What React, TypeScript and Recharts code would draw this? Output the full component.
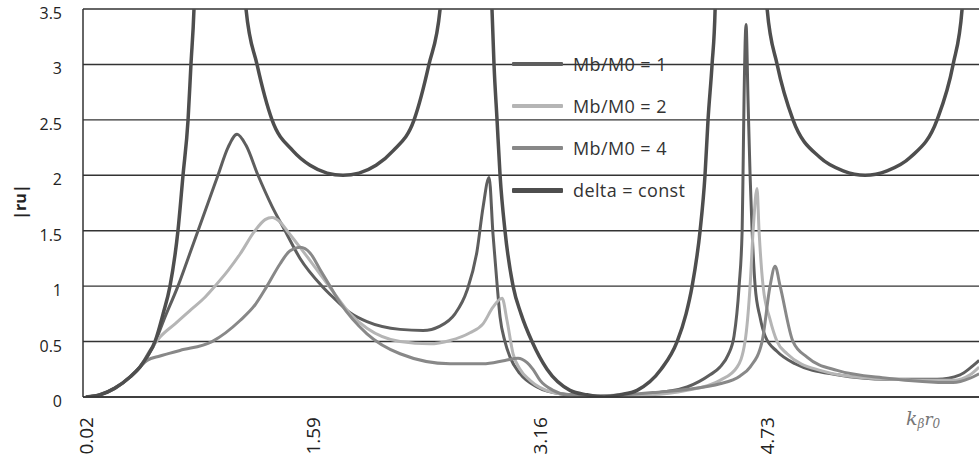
import { CartesianGrid, Legend, Line, LineChart, XAxis, YAxis } from "recharts";

// k_beta * r0 ticks and |ru| ticks
const kTicks = [0.02, 1.59, 3.16, 4.73];
const ruTicks = [0, 0.5, 1, 1.5, 2, 2.5, 3, 3.5];

// Mb/M0 = 1
const mb1K = [0.02, 0.118, 0.221, 0.325, 0.394, 0.484, 0.567, 0.657, 0.727, 0.796, 0.865, 0.934, 1.003, 1.066, 1.128, 1.211, 1.308, 1.398, 1.502, 1.654, 1.73, 1.848, 1.965, 2.194, 2.353, 2.471, 2.574, 2.657, 2.727, 2.768, 2.81, 2.837, 2.865, 2.886, 2.92, 2.955, 3.024, 3.142, 3.301, 3.578, 3.924, 4.18, 4.339, 4.408, 4.464, 4.505, 4.54, 4.561, 4.567, 4.574, 4.588, 4.602, 4.616, 4.63, 4.651, 4.685, 4.72, 4.803, 4.927, 5.218, 5.564, 5.91, 6.069, 6.138, 6.201];
const mb1R = [0, 0.02, 0.08, 0.18, 0.27, 0.45, 0.72, 1.0, 1.25, 1.5, 1.75, 2.0, 2.25, 2.37, 2.27, 2.0, 1.72, 1.5, 1.25, 1.0, 0.9, 0.76, 0.68, 0.61, 0.6, 0.64, 0.75, 0.96, 1.32, 1.71, 1.98, 1.47, 1.02, 0.72, 0.5, 0.36, 0.21, 0.09, 0.03, 0.01, 0.03, 0.09, 0.2, 0.27, 0.38, 0.55, 1.0, 1.5, 2.0, 2.67, 3.36, 2.67, 2.0, 1.5, 1.0, 0.72, 0.55, 0.41, 0.3, 0.2, 0.16, 0.16, 0.2, 0.26, 0.33];

// Mb/M0 = 2
const mb2K = [0.02, 0.118, 0.221, 0.325, 0.394, 0.464, 0.533, 0.637, 0.74, 0.844, 0.913, 1.003, 1.087, 1.19, 1.26, 1.308, 1.363, 1.412, 1.502, 1.606, 1.73, 1.848, 1.965, 2.194, 2.401, 2.54, 2.678, 2.768, 2.837, 2.9, 2.934, 2.976, 3.024, 3.093, 3.253, 3.439, 3.924, 4.18, 4.408, 4.526, 4.581, 4.616, 4.637, 4.664, 4.678, 4.706, 4.754, 4.803, 4.872, 5.1, 5.446, 6.021, 6.138, 6.201];
const mb2R = [0, 0.02, 0.08, 0.18, 0.27, 0.42, 0.54, 0.66, 0.78, 0.9, 1.0, 1.14, 1.29, 1.5, 1.6, 1.62, 1.58, 1.5, 1.35, 1.17, 0.95, 0.75, 0.62, 0.5, 0.48, 0.51, 0.58, 0.66, 0.81, 0.89, 0.69, 0.39, 0.25, 0.15, 0.04, 0.01, 0.02, 0.06, 0.15, 0.27, 0.5, 1.0, 1.5, 1.88, 1.5, 1.0, 0.7, 0.5, 0.39, 0.24, 0.17, 0.15, 0.2, 0.27];

// Mb/M0 = 4
const mb4K = [0.02, 0.118, 0.221, 0.325, 0.394, 0.443, 0.533, 0.671, 0.893, 1.087, 1.19, 1.273, 1.363, 1.433, 1.502, 1.571, 1.64, 1.709, 1.779, 1.965, 2.194, 2.54, 2.768, 2.92, 3.01, 3.073, 3.114, 3.163, 3.253, 3.349, 3.578, 3.945, 4.408, 4.547, 4.616, 4.699, 4.754, 4.789, 4.824, 4.913, 5.01, 5.218, 5.564, 6.021, 6.138, 6.201];
const mb4R = [0, 0.02, 0.08, 0.18, 0.27, 0.33, 0.37, 0.42, 0.5, 0.69, 0.83, 1.0, 1.2, 1.32, 1.35, 1.3, 1.15, 1.0, 0.85, 0.57, 0.39, 0.3, 0.3, 0.33, 0.35, 0.31, 0.25, 0.15, 0.06, 0.02, 0.01, 0.04, 0.12, 0.19, 0.27, 0.5, 1.0, 1.18, 1.0, 0.5, 0.36, 0.24, 0.17, 0.13, 0.17, 0.21];

// delta = const (goes off the top of the plot near its poles)
const deltaK = [0.02, 0.118, 0.221, 0.325, 0.394, 0.45, 0.498, 0.554, 0.602, 0.657, 0.692, 0.727, 0.747, 0.768, 0.796, 1.1, 1.128, 1.204, 1.308, 1.453, 1.571, 1.689, 1.799, 1.91, 2.028, 2.145, 2.291, 2.394, 2.471, 2.498, 2.803, 2.83, 2.844, 2.865, 2.886, 2.92, 2.976, 3.031, 3.107, 3.211, 3.37, 3.488, 3.606, 3.716, 3.834, 4.0, 4.111, 4.173, 4.215, 4.27, 4.304, 4.325, 4.353, 4.374, 4.394, 4.706, 4.734, 4.803, 4.913, 5.1, 5.26, 5.412, 5.564, 5.723, 5.91, 6.021, 6.083, 6.111];
const deltaR = [0, 0.02, 0.08, 0.18, 0.27, 0.38, 0.5, 0.75, 1.0, 1.5, 2.0, 2.5, 3.0, 3.5, 5, 5, 3.5, 3.0, 2.5, 2.22, 2.09, 2.02, 2.0, 2.02, 2.09, 2.22, 2.5, 3.0, 3.5, 5, 5, 3.5, 3.0, 2.5, 2.0, 1.5, 1.0, 0.75, 0.5, 0.25, 0.06, 0.02, 0, 0.02, 0.06, 0.25, 0.5, 0.75, 1.0, 1.5, 2.0, 2.5, 3.0, 3.5, 5, 5, 3.5, 3.0, 2.5, 2.16, 2.04, 2.0, 2.04, 2.16, 2.5, 3.0, 3.5, 5];

const toPoints = (k: number[], r: number[]) => k.map((x, i) => ({ k: x, r: r[i] }));

const SERIES = [
  { name: "Mb/M0 = 1", color: "#5e5e5e", width: 3, legendWidth: 4, data: toPoints(mb1K, mb1R) },
  { name: "Mb/M0 = 2", color: "#b5b5b5", width: 3, legendWidth: 3.5, data: toPoints(mb2K, mb2R) },
  { name: "Mb/M0 = 4", color: "#888888", width: 3, legendWidth: 4, data: toPoints(mb4K, mb4R) },
  { name: "delta = const", color: "#4e4e4e", width: 3.5, legendWidth: 5, data: toPoints(deltaK, deltaR) },
];

const FONT = "'Open Sans', sans-serif";

function YTick(props: any) {
  const { x, y, payload } = props;
  return (
    <text x={x} y={y + 4} textAnchor="end" dominantBaseline="central" fontSize={16} fill="#222" fontFamily={FONT}>
      {payload.value}
    </text>
  );
}

function XTick(props: any) {
  const { x, y, payload } = props;
  return (
    <text
      x={x}
      y={y}
      transform={`rotate(-90, ${x}, ${y})`}
      textAnchor="end"
      dominantBaseline="central"
      fontSize={19}
      fill="#222"
      fontFamily={FONT}>
      {payload.value.toFixed(2)}
    </text>
  );
}

function YLabel() {
  return (
    <text
      x={20}
      y={202}
      transform="rotate(-90, 20, 202)"
      textAnchor="middle"
      dominantBaseline="central"
      fontSize={16}
      fontWeight="bold"
      fill="#222"
      fontFamily={FONT}>
      |ru|
    </text>
  );
}

function XLabel() {
  return (
    <text x={906} y={425} fontFamily="'DejaVu Serif', serif" fontStyle="italic" fill="#777" fontSize={19}>
      k
      <tspan fontSize={12} dy={3}>β</tspan>
      <tspan fontSize={17} dy={-3}>r</tspan>
      <tspan fontSize={12} dy={3}>0</tspan>
    </text>
  );
}

function renderLegend() {
  return (
    <div style={{ fontFamily: FONT }}>
      {SERIES.map((s) => (
        <div key={s.name} style={{ display: "flex", alignItems: "center", height: 42 }}>
          <span style={{ display: "inline-block", width: 51, height: s.legendWidth, background: s.color, borderRadius: 1 }} />
          <span style={{ marginLeft: 10, fontSize: 18, letterSpacing: 0.4, color: "#333" }}>{s.name}</span>
        </div>
      ))}
    </div>
  );
}

export default function App() {
  return (
    <div style={{ position: "absolute", left: 0, top: 0, width: 979, height: 463, background: "#fff", overflow: "hidden" }}>
      <LineChart width={979} height={463} margin={{ top: 9, right: 0, bottom: 6, left: 23 }}>
        <CartesianGrid vertical={false} stroke="#333" strokeWidth={1.4} />
        <XAxis
          type="number"
          dataKey="k"
          domain={[0, 6.2]}
          allowDataOverflow
          ticks={kTicks}
          interval={0}
          height={60}
          tickLine={false}
          tickSize={6}
          tickMargin={14}
          axisLine={{ stroke: "#333", strokeWidth: 1.4 }}
          tick={<XTick />}
          label={<XLabel />}
        />
        <YAxis
          type="number"
          domain={[0, 3.5]}
          allowDataOverflow
          ticks={ruTicks}
          interval={0}
          width={60}
          tickLine={false}
          tickSize={6}
          tickMargin={15}
          axisLine={{ stroke: "#333", strokeWidth: 1.5 }}
          tick={<YTick />}
          label={<YLabel />}
        />
        <Legend
          layout="vertical"
          align="center"
          verticalAlign="middle"
          wrapperStyle={{ left: 512, top: 43, width: 260, height: 170 }}
          content={renderLegend}
        />
        {SERIES.map((s) => (
          <Line
            key={s.name}
            name={s.name}
            data={s.data}
            dataKey="r"
            type="monotone"
            stroke={s.color}
            strokeWidth={s.width}
            dot={false}
            activeDot={false}
            isAnimationActive={false}
          />
        ))}
      </LineChart>
    </div>
  );
}
